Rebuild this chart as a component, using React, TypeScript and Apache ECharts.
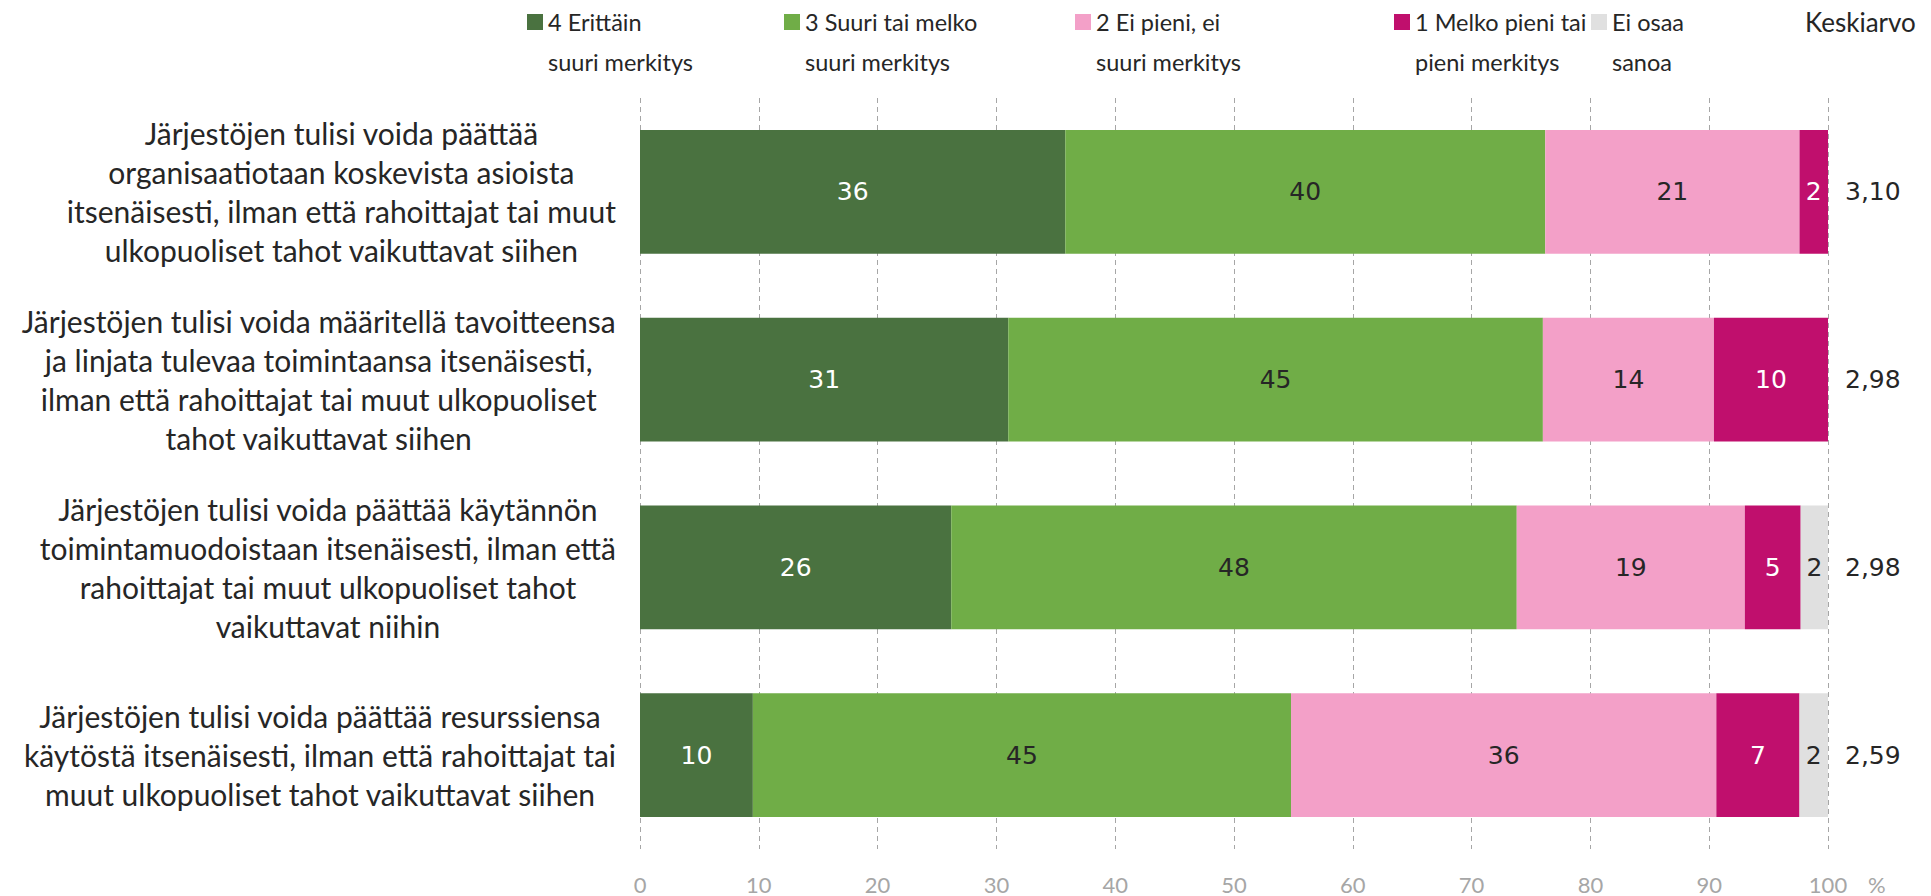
import React, { useEffect, useRef } from "react";
import * as echarts from "echarts";

const categories = [
  "Järjestöjen tulisi voida päättää\norganisaatiotaan koskevista asioista\nitsenäisesti, ilman että rahoittajat tai muut\nulkopuoliset tahot vaikuttavat siihen",
  "Järjestöjen tulisi voida määritellä tavoitteensa\nja linjata tulevaa toimintaansa itsenäisesti,\nilman että rahoittajat tai muut ulkopuoliset\ntahot vaikuttavat siihen",
  "Järjestöjen tulisi voida päättää käytännön\ntoimintamuodoistaan itsenäisesti, ilman että\nrahoittajat tai muut ulkopuoliset tahot\nvaikuttavat niihin",
  "Järjestöjen tulisi voida päättää resurssiensa\nkäytöstä itsenäisesti, ilman että rahoittajat tai\nmuut ulkopuoliset tahot vaikuttavat siihen",
];

const seriesNames = [
  "4 Erittäin\nsuuri merkitys",
  "3 Suuri tai melko\nsuuri merkitys",
  "2 Ei pieni, ei\nsuuri merkitys",
  "1 Melko pieni tai\npieni merkitys",
  "Ei osaa\nsanoa",
];

const valuesErittain = [35.8, 31.0, 26.2, 9.5];
const valuesSuuri = [40.4, 45.0, 47.6, 45.3];
const valuesEiPieni = [21.4, 14.4, 19.2, 35.8];
const valuesPieni = [2.4, 9.6, 4.7, 7.0];
const valuesEiOsaa = [0, 0, 2.3, 2.4];

const averages = [3.1, 2.98, 2.98, 2.59];
const averageTitle = "Keskiarvo";
const xTicks = { min: 0, max: 100, interval: 10 };
const xUnit = "%";

const colors = ["#4A7240", "#70AD47", "#F3A0C8", "#C00F6D", "#E0E0E0"];
const labelColors = ["#FFFFFF", "#262626", "#262626", "#FFFFFF", "#262626"];
const legendLeft = [527, 784, 1075, 1394, 1591];

const FONT = "Lato, 'Open Sans', sans-serif";
const NUMFONT = "'DejaVu Sans', Lato, sans-serif";

export default function App() {
  const ref = useRef<HTMLDivElement>(null);
  useEffect(() => {
    document.body.style.margin = "0";
    if (!ref.current) return;
    const chart = echarts.init(ref.current, null, { renderer: "svg" });
    const seriesData = [valuesErittain, valuesSuuri, valuesEiPieni, valuesPieni, valuesEiOsaa];
    const option: any = {
      animation: false,
      textStyle: { fontFamily: FONT },
      grid: { left: 640, right: 103, top: 98, bottom: 47, containLabel: false },
      legend: seriesNames.map((n, i) => ({
        data: [n],
        left: legendLeft[i],
        top: -38,
        padding: 0,
        itemWidth: 16,
        itemHeight: 16,
        itemGap: 0,
        icon: "rect",
        selectedMode: false,
        formatter: (name: string) => "\n" + name,
        textStyle: {
          fontSize: 23.5,
          color: "#262626",
          fontFamily: FONT,
          lineHeight: 40,
        },
      })),
      xAxis: {
        type: "value",
        min: xTicks.min,
        max: xTicks.max,
        interval: xTicks.interval,
        axisLine: { show: false },
        axisTick: { show: false },
        splitLine: { show: true, lineStyle: { color: "#A6A6A6", type: [5, 4], width: 1 } },
        axisLabel: { color: "#A6A6A6", fontSize: 22, margin: 24, fontFamily: FONT },
        name: xUnit,
        nameLocation: "end",
        nameGap: 40,
        nameTextStyle: {
          color: "#A6A6A6",
          fontSize: 22,
          fontFamily: FONT,
          verticalAlign: "top",
          padding: [24, 0, 0, 0],
        },
      },
      yAxis: [
        {
          type: "category",
          data: categories,
          inverse: true,
          axisLine: { show: false },
          axisTick: { show: false },
          axisLabel: {
            align: "right",
            margin: 24,
            formatter: (v: string) =>
              v
                .split("\n")
                .map((l) => `{c|${l}}`)
                .join("\n"),
            rich: {
              c: {
                align: "center",
                fontSize: 30,
                lineHeight: 39,
                color: "#262626",
                fontFamily: FONT,
              },
            },
          },
        },
        {
          type: "category",
          data: categories,
          inverse: true,
          position: "right",
          axisLine: { show: false },
          axisTick: { show: false },
          axisLabel: {
            margin: 17,
            fontSize: 25,
            color: "#262626",
            fontFamily: NUMFONT,
            formatter: (_v: string, i: number) => averages[i].toFixed(2).replace(".", ","),
          },
        },
      ],
      graphic: [
        {
          type: "text",
          x: 1805,
          y: 22,
          style: {
            text: averageTitle,
            fontSize: 26,
            fontFamily: FONT,
            fill: "#262626",
            verticalAlign: "middle",
            align: "left",
          },
        },
      ],
      series: seriesNames.map((n, i) => ({
        name: n,
        type: "bar",
        stack: "total",
        yAxisIndex: 0,
        barCategoryGap: "34%",
        data: seriesData[i],
        itemStyle: { color: colors[i] },
        label: {
          show: true,
          position: "inside",
          color: labelColors[i],
          fontSize: 25,
          fontFamily: NUMFONT,
          formatter: (p: any) => (p.value >= 0.5 ? String(Math.round(p.value)) : ""),
        },
      })),
    };
    chart.setOption(option);
    return () => chart.dispose();
  }, []);
  return <div ref={ref} style={{ width: 1931, height: 896 }} />;
}
